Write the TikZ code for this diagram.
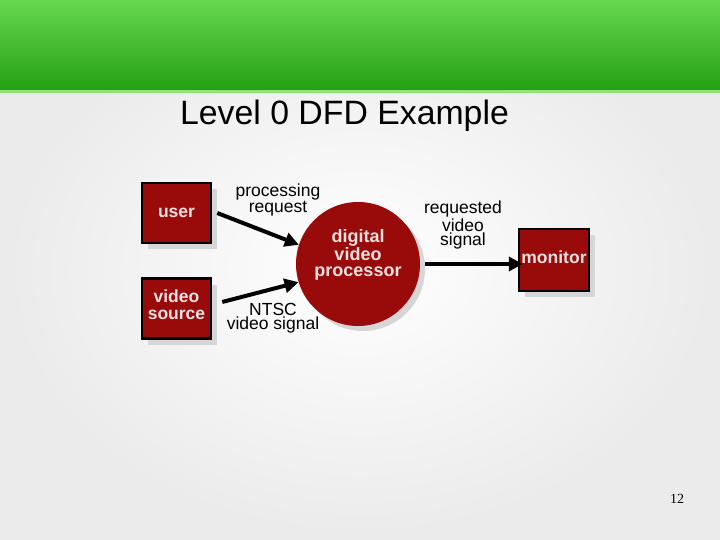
\documentclass[tikz,border=0pt]{standalone}
\usepackage{fontspec}
\setmainfont{Liberation Sans}
\newfontfamily\numfont{Liberation Serif}
\usetikzlibrary{arrows.meta,shadows}
\definecolor{boxred}{HTML}{990A0A}
\definecolor{boxtext}{HTML}{F6E0E0}
\definecolor{gtop}{HTML}{66D84E}
\definecolor{gbot}{HTML}{259F12}
\definecolor{gline}{HTML}{8EE47A}
\definecolor{shadowgray}{HTML}{D6D6D6}
\tikzset{
  entity/.style={draw=black, line width=2.5pt, fill=boxred, minimum width=69pt, minimum height=60pt,
    inner sep=0pt, text=boxtext, font=\fontsize{17.5}{17}\selectfont\bfseries, align=center,
    drop shadow={shadow xshift=6pt, shadow yshift=-6pt, fill=shadowgray, opacity=1}},
  proc/.style={circle, fill=boxred, minimum size=124pt, inner sep=0pt, text=boxtext,
    font=\fontsize{18}{16.5}\selectfont\bfseries, align=center, text depth=22pt,
    drop shadow={shadow xshift=5pt, shadow yshift=-5pt, fill=shadowgray, opacity=1}},
  flow/.style={line width=4pt, -{Triangle[length=14pt,width=14pt]}},
  flowlabel/.style={font=\fontsize{17.5}{14}\selectfont, align=center, inner sep=0pt}
}
\begin{document}
\begin{tikzpicture}[x=1pt,y=-1pt]
\useasboundingbox (0,0) rectangle (720,540);
% background
\shade[inner color=white, outer color=black!8] (0,0) rectangle (720,540);
% banner
\shade[top color=gtop, bottom color=gbot] (0,0) rectangle (720,91);
\fill[gline] (0,90) rectangle (720,93);
% title
\node[font=\fontsize{33.8}{36}\selectfont, anchor=base] (title) at (344.5,125) {Level 0 DFD Example};
% nodes
\node[entity] (user) at (176.5,213) {user};
\node[entity, text depth=7pt] (vsrc) at (176.5,308.5) {video\\source};
\node[proc] (dvp) at (358,264) {digital\\video\\processor};
\node[entity, minimum width=70pt, minimum height=62pt, text depth=6pt] (mon) at (554,260) {monitor};
% flows
\draw[flow] ([shift={(5,0)}]user.east) -- (dvp.162);
\draw[flow] ([shift={(10,-6.5)}]vsrc.east) -- (dvp.197);
\draw[flow] ([xshift=5]dvp.east) -- ([xshift=5]dvp.east -| mon.west);
% labels
\node[flowlabel] (l1) at (278,200) {processing\\request};
\node[flowlabel] (l2) at (273,318) {NTSC\\video signal};
\node[flowlabel] (l3) at (463,225) {requested\\video\\signal};
% page number
\node[font=\numfont\fontsize{14}{16}\selectfont] (pg) at (677,499) {12};
\end{tikzpicture}
\end{document}
